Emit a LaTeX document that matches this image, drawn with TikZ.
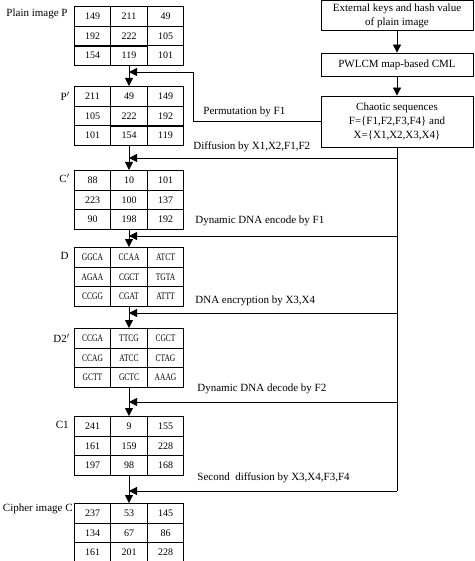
\documentclass[tikz,border=0pt]{standalone}
\usepackage{fontspec}
\setmainfont{Liberation Serif}
\newfontfamily\dnafont[FakeStretch=0.75]{Liberation Serif}
\usetikzlibrary{arrows.meta,matrix}
\begin{document}
\begin{tikzpicture}[x=1pt,y=-1pt, line width=0.8pt,
  arr/.style={-{Triangle[length=8pt,width=8pt]}},
  grid/.style={matrix of nodes, inner sep=0pt, column sep=-0.8pt, row sep=-0.8pt, anchor=north,
    nodes={draw, minimum width=36.5pt, minimum height=19.5pt, inner sep=0pt,
           font=\fontsize{10}{12}\selectfont}},
  dna/.style={nodes={font=\dnafont\fontsize{10}{12}\selectfont}},
  box/.style={draw, minimum width=152pt, inner sep=0pt, align=center,
              font=\fontsize{11}{14}\selectfont},
  lbl/.style={anchor=west, inner sep=0pt, font=\fontsize{11}{13}\selectfont},
  tname/.style={anchor=east, inner sep=0pt, font=\fontsize{11}{13}\selectfont}]
\useasboundingbox (0,0) rectangle (474,561);

% right column boxes
\node[box, minimum height=29.5pt] (ext) at (397,15.5) {External keys and hash value\\of plain image};
\node[box, minimum height=23pt] (pwl) at (397,64.5) {PWLCM map-based CML};
\node[box, minimum height=51pt] (chaos) at (397,121.5) {Chaotic sequences\\F=\{F1,F2,F3,F4\} and\\X=\{X1,X2,X3,X4\}};
\draw[arr] (ext) -- (pwl);
\draw[arr] (pwl) -- (chaos);

% tables
\matrix[grid] (P) at (129,6) {149 & 211 & 49\\ 192 & 222 & 105\\ 154 & 119 & 101\\};
\matrix[grid] (Pp) at (129,86) {211 & 49 & 149\\ 105 & 222 & 192\\ 101 & 154 & 119\\};
\matrix[grid] (Cp) at (129,170) {88 & 10 & 101\\ 223 & 100 & 137\\ 90 & 198 & 192\\};
\matrix[grid,dna] (D) at (129,247) {GGCA & CCAA & ATCT\\ AGAA & CGCT & TGTA\\ CCGG & CGAT & ATTT\\};
\matrix[grid,dna] (D2) at (129,328) {CCGA & TTCG & CGCT\\ CCAG & ATCC & CTAG\\ GCTT & GCTC & AAAG\\};
\matrix[grid] (C1) at (129,416) {241 & 9 & 155\\ 161 & 159 & 228\\ 197 & 98 & 168\\};
\matrix[grid] (C) at (129,503) {237 & 53 & 145\\ 134 & 67 & 86\\ 161 & 201 & 228\\};

% table names
\node[tname] (nP) at (68,14) {Plain image P};
\node[tname] (nPp) at (70,96) {P$^{\prime}$};
\node[tname] (nCp) at (70,178) {C$^{\prime}$};
\node[tname] (nD) at (69,256) {D};
\node[tname] (nD2) at (70,338) {D2$^{\prime}$};
\node[tname] (nC1) at (69,425) {C1};
\node[tname] (nC) at (73,509) {Cipher image C};

% main flow
\draw[arr] (P) -- (Pp);
\draw[arr] (Pp) -- (Cp);
\draw[arr] (Cp) -- (D);
\draw[arr] (D) -- (D2);
\draw[arr] (D2) -- (C1);
\draw[arr] (C1) -- (C);

% junction points on the main flow
\coordinate (j1) at (129,72);
\coordinate (j2) at (129,158);
\coordinate (j3) at (129,236);
\coordinate (j4) at (129,313);
\coordinate (j5) at (129,402);
\coordinate (j6) at (129,491);
\coordinate (k1) at (193,72);
\coordinate (t2) at (397,158);
\coordinate (t3) at (397,236);
\coordinate (t4) at (397,313);
\coordinate (t5) at (397,402);
\coordinate (t6) at (397,491);

\draw (chaos.south) -- (t6);
\draw[arr] (chaos.west) -| (k1) -- (j1);
\draw[arr] (t2) -- (j2);
\draw[arr] (t3) -- (j3);
\draw[arr] (t4) -- (j4);
\draw[arr] (t5) -- (j5);
\draw[arr] (t6) -- (j6);

% operation labels
\node[lbl] (l1) at (203,112) {Permutation by F1};
\node[lbl] (l2) at (193,147) {Diffusion by X1,X2,F1,F2};
\node[lbl] (l3) at (195,221) {Dynamic DNA encode by F1};
\node[lbl] (l4) at (195,301) {DNA encryption by X3,X4};
\node[lbl] (l5) at (197,389) {Dynamic DNA decode by F2};
\node[lbl] (l6) at (197,478) {Second\ \ diffusion by X3,X4,F3,F4};
\end{tikzpicture}
\end{document}
